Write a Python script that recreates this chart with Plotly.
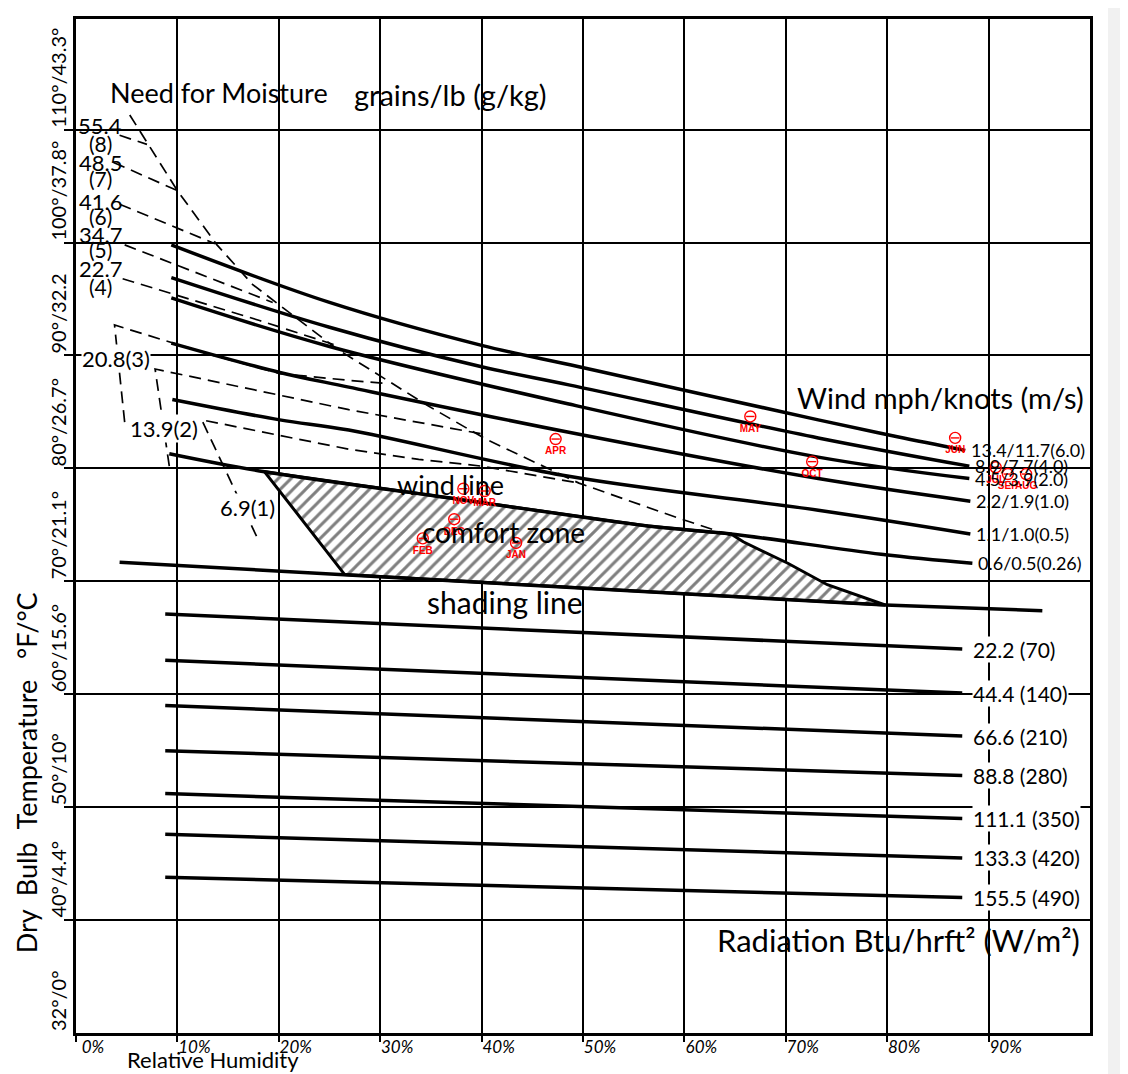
import plotly.graph_objects as go

# axes: relative humidity (%) across, dry bulb temperature (deg F) up
rh_ticks = [0, 10, 20, 30, 40, 50, 60, 70, 80, 90]
rh_tick_text = ["0%", "10%", "20%", "30%", "40%", "50%", "60%", "70%", "80%", "90%"]
temp_ticks = [30, 40, 50, 60, 70, 80, 90, 100, 110]
temp_tick_text = ["32°/0°", "40°/4.4°", "50°/10°", "60°/15.6°", "70°/21.1°",
                  "80°/26.7°", "90°/32.2", "100°/37.8°", "110°/43.3°"]

# wind lines, mph/knots (m/s)
wind_labels = ["13.4/11.7(6.0)", "8.9/7.7(4.0)", "4.5/3.9(2.0)",
               "2.2/1.9(1.0)", "1.1/1.0(0.5)", "0.6/0.5(0.26)"]
wind_rh = [
    [9.4, 25.0, 40.0, 49.6, 73.2, 81.0, 87.7],
    [9.4, 25.0, 40.0, 48.6, 73.2, 88.1],
    [9.4, 25.0, 48.6, 73.2, 88.1],
    [9.4, 20.1, 26.9, 48.6, 73.2, 88.2],
    [9.5, 20.1, 26.9, 48.6, 73.2, 88.2],
    [9.2, 18.6, 37.5, 56.4, 64.6, 79.4, 88.4],
]
wind_temp = [
    [99.8, 94.7, 90.9, 89.0, 84.3, 82.8, 81.6],
    [96.9, 92.5, 89.0, 87.4, 82.7, 80.2],
    [95.1, 90.8, 85.7, 81.0, 79.1],
    [91.1, 88.5, 87.2, 83.2, 79.1, 77.1],
    [86.1, 84.3, 83.4, 79.3, 76.3, 74.2],
    [81.3, 79.7, 77.3, 74.9, 74.2, 72.4, 71.6],
]

# comfort zone outline
comfort_rh = [18.6, 37.5, 56.4, 64.6, 65.8, 70.2, 74.1, 79.8, 56.4, 26.5, 18.6]
comfort_temp = [79.7, 77.3, 74.9, 74.2, 73.5, 71.6, 69.7, 67.9, 69.1, 70.6, 79.7]

# shading line
shade_rh = [4.3, 26.5, 56.4, 79.8, 95.3]
shade_temp = [71.7, 70.6, 69.1, 67.9, 67.4]

# radiation lines, Btu/hrft2 (W/m2)
rad_labels = ["22.2 (70)", "44.4 (140)", "66.6 (210)", "88.8 (280)",
              "111.1 (350)", "133.3 (420)", "155.5 (490)"]
rad_rh = [8.8, 87.4]
rad_temp_start = [67.1, 63.0, 59.0, 55.0, 51.2, 47.6, 43.8]
rad_temp_end = [64.0, 60.1, 56.3, 52.8, 49.0, 45.5, 42.0]

# need for moisture, grains/lb (g/kg)
limit_rh = [5.3, 10.0, 13.9, 17.4, 25.7, 30.2, 34.8, 40.4, 49.6, 59.4, 64.8]
limit_temp = [111.3, 104.6, 99.8, 96.3, 90.6, 88.1, 85.5, 82.6, 78.7, 75.6, 74.0]
moist_labels = ["55.4", "48.5", "41.6", "34.7", "22.7"]
moist_codes = ["(8)", "(7)", "(6)", "(5)", "(4)"]
moist_rh = [
    [4.3, 7.0],
    [3.7, 10.0],
    [4.3, 13.7],
    [4.8, 19.4],
    [4.6, 10.0, 18.1, 26.0],
    [4.8, 3.8, 13.2, 20.1, 26.9, 30.9],
    [9.2, 7.8, 26.9, 40.4],
    [17.8, 12.4, 26.9, 33.8, 40.0, 49.6],
]
moist_temp = [
    [109.5, 108.7],
    [107.1, 104.6],
    [103.4, 99.9],
    [99.8, 94.7],
    [96.8, 95.3, 93.1, 90.8],
    [84.1, 92.7, 90.1, 88.4, 87.8, 87.5],
    [80.2, 88.8, 85.2, 83.0],
    [74.0, 84.3, 81.7, 80.8, 80.2, 78.7],
]

# monthly climate points
months = ["JAN", "FEB", "MAR", "APR", "MAY", "JUN", "JUL", "AUG", "SEP", "OCT", "NOV", "DEC"]
month_rh = [43.4, 34.2, 40.3, 47.3, 66.5, 86.7, 90.7, 93.7, 91.9, 72.6, 38.2, 37.3]
month_temp = [73.4, 73.8, 78.0, 82.6, 84.6, 82.7, 80.1, 79.5, 79.5, 80.6, 78.2, 75.5]

FONT = "Lato"
INK = "black"
DASH = "12px,7px"
NB = "\u00a0"

fig = go.Figure()

# hatched comfort zone
fig.add_trace(go.Scatter(x=comfort_rh, y=comfort_temp, mode="lines", fill="toself",
                         fillpattern=dict(shape="/", fgcolor=INK, bgcolor="white", size=9, solidity=0.33),
                         line=dict(color=INK, width=3), hoverinfo="skip"))

# moisture lines (dashed)
fig.add_trace(go.Scatter(x=limit_rh, y=limit_temp, mode="lines",
                         line=dict(color=INK, width=1.7, dash=DASH), hoverinfo="skip"))
for xs, ys in zip(moist_rh, moist_temp):
    fig.add_trace(go.Scatter(x=xs, y=ys, mode="lines",
                             line=dict(color=INK, width=1.7, dash=DASH), hoverinfo="skip"))

# wind lines
for xs, ys, lab in zip(wind_rh, wind_temp, wind_labels):
    fig.add_trace(go.Scatter(x=xs, y=ys, mode="lines", line=dict(color=INK, width=3.5, shape="spline"),
                             hoverinfo="skip"))
    fig.add_annotation(x=xs[-1], y=ys[-1], text=lab, showarrow=False, xanchor="left", xshift=4,
                       font=dict(family=FONT, size=18, color=INK))

# shading line
fig.add_trace(go.Scatter(x=shade_rh, y=shade_temp, mode="lines", line=dict(color=INK, width=3.5),
                         hoverinfo="skip"))

# radiation lines
for t0, t1, lab in zip(rad_temp_start, rad_temp_end, rad_labels):
    fig.add_trace(go.Scatter(x=rad_rh, y=[t0, t1], mode="lines", line=dict(color=INK, width=3.5),
                             hoverinfo="skip"))
    fig.add_annotation(x=rad_rh[-1], y=t1, text=lab, showarrow=False, xanchor="left", xshift=10,
                       bgcolor="white", borderpad=0, font=dict(family=FONT, size=21, color=INK))

# month markers
fig.add_trace(go.Scatter(x=month_rh, y=month_temp, mode="markers+text", text=months,
                         textposition="bottom center",
                         textfont=dict(family="Liberation Sans", size=10, color="red", weight="bold"),
                         marker=dict(symbol="circle-open", size=11, color="red", line=dict(width=1.4)),
                         hoverinfo="skip"))
fig.add_trace(go.Scatter(x=month_rh, y=month_temp, mode="markers",
                         marker=dict(symbol="line-ew-open", size=6, color="red", line=dict(width=1.4, color="red")),
                         hoverinfo="skip"))

# moisture labels
moist_lab_temp = [110.4, 107.1, 103.6, 100.7, 97.7]
moist_code_temp = [108.8, 105.7, 102.3, 99.4, 96.1]
for lab, code, ty, cy in zip(moist_labels, moist_codes, moist_lab_temp, moist_code_temp):
    fig.add_annotation(x=2.4, y=ty, text=lab, showarrow=False, font=dict(family=FONT, size=22, color=INK))
    fig.add_annotation(x=2.4, y=cy, text=code, showarrow=False, font=dict(family=FONT, size=21, color=INK))
for lab, xx, yy in [("20.8(3)", 3.9, 89.7), ("13.9(2)", 8.7, 83.5), ("6.9(1)", 16.9, 76.5)]:
    fig.add_annotation(x=xx, y=yy, text=lab, showarrow=False, bgcolor="white", borderpad=0,
                       font=dict(family=FONT, size=22, color=INK))

# y tick labels (rotated, sitting on their grid line)
for v, lab in zip(temp_ticks, temp_tick_text):
    fig.add_annotation(x=0, xref="paper", xshift=-18, y=v, yref="y", text=lab, textangle=-90,
                       showarrow=False, xanchor="center", yanchor="bottom",
                       font=dict(family=FONT, size=20, color=INK))

# chart texts
texts = [
    ("Need for Moisture", 3.2, 113.3, 27),
    ("grains/lb (g/kg)", 27.2, 113.1, 29),
    ("Wind mph/knots (m/s)", 70.9, 86.3, 29),
    ("wind line", 31.5, 78.6, 27),
    ("comfort zone", 33.9, 74.4, 28),
    ("shading line", 34.4, 68.2, 30),
    ("Radiation Btu/hrft² (W/m²)", 63.0, 38.2, 31),
]
for lab, xx, yy, sz in texts:
    fig.add_annotation(x=xx, y=yy, text=lab, showarrow=False, xanchor="left",
                       font=dict(family=FONT, size=sz, color=INK))

ytitle = "Dry" + NB + " Bulb" + NB + " Temperature" + NB + " " + NB + "°F/°C"
fig.add_annotation(x=0, xref="paper", xshift=-50, xanchor="center", y=53.0, yanchor="middle",
                   text=ytitle, textangle=-90, showarrow=False,
                   font=dict(family=FONT, size=27, color=INK))
fig.add_annotation(x=4.8, y=0, yref="paper", yshift=-26, yanchor="middle", text="Relative Humidity",
                   xanchor="left", showarrow=False, font=dict(family=FONT, size=22, color=INK))

# scan edge strip
fig.add_shape(type="rect", xref="paper", yref="paper", x0=1.0178, x1=1.04, y0=-0.05, y1=1.02,
              fillcolor="#f1f1f1", line_width=0, layer="below")

# page body adds 8px, so figure is 8px smaller with the same plot rectangle
fig.update_layout(
    width=1120, height=1066,
    margin=dict(l=68, r=38, t=8, b=41),
    paper_bgcolor="white", plot_bgcolor="white",
    showlegend=False,
    xaxis=dict(range=[0, 100], tickvals=rh_ticks, ticktext=rh_tick_text,
               showgrid=True, gridcolor=INK, gridwidth=1.5,
               showline=True, linecolor=INK, linewidth=3, mirror=True,
               ticks="outside", ticklen=6, tickcolor=INK, tickwidth=1.5,
               ticklabelshift=17, ticklabelstandoff=-9,
               tickfont=dict(family=FONT, size=17, color=INK, style="italic"),
               zeroline=False),
    yaxis=dict(range=[30, 119.8], tickvals=temp_ticks[1:],
               showgrid=True, gridcolor=INK, gridwidth=1.5,
               showline=True, linecolor=INK, linewidth=3, mirror=True,
               ticks="outside", ticklen=9, tickcolor=INK, tickwidth=1.5,
               showticklabels=False, zeroline=False),
)

fig.write_html("out.html")
